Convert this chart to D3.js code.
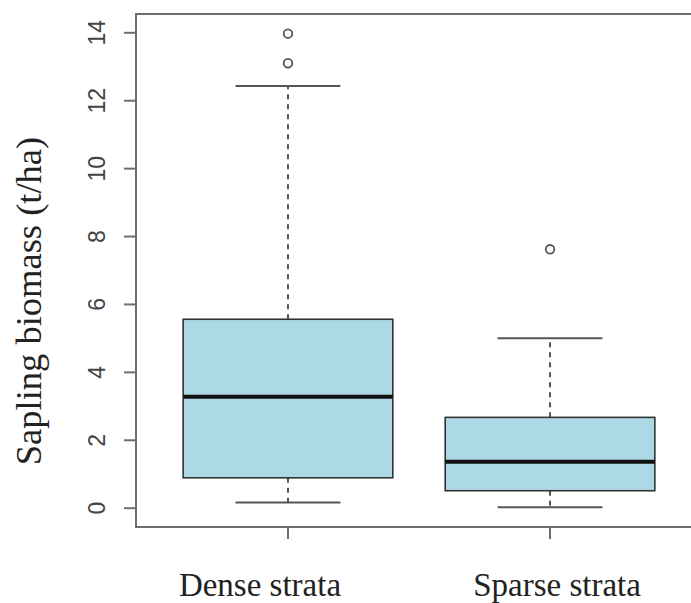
<!DOCTYPE html>
<html>
<head>
<meta charset="utf-8">
<script src="https://cdn.jsdelivr.net/npm/d3@7"></script>
<style>
  body { margin: 0; background: #fff; }
  svg { display: block; }
</style>
</head>
<body>
<div id="chart"></div>
<script>
// values
const categories = ["Dense strata", "Sparse strata"];
const lowerWhisker = [0.15, 0.01];
const q1 = [0.88, 0.50];
const median = [3.27, 1.35];
const q3 = [5.55, 2.66];
const upperWhisker = [12.42, 4.99];
const outliers = [[13.96, 13.09], [7.61]];
const yTicks = [0, 2, 4, 6, 8, 10, 12, 14];

const width = 691;
const height = 603;

// plot frame (right edge falls outside the picture)
const frame = { left: 136, right: 702, top: 14, bottom: 527 };

const svg = d3.select('#chart')
    .append('svg')
    .attr('width', width)
    .attr('height', height);

const x = d3.scaleLinear()
    .domain([0.42, 2.58])
    .range([frame.left, frame.right]);

const y = d3.scaleLinear()
    .domain([0, 14])
    .range([507.7, 32.3]);

const boxHalf = 0.4;
const capHalf = 0.2;
const frameColor = '#6e6e6e';
const lineColor = '#555';

// frame
svg.append('rect')
    .attr('x', frame.left)
    .attr('y', frame.top)
    .attr('width', frame.right - frame.left)
    .attr('height', frame.bottom - frame.top)
    .attr('fill', 'none')
    .attr('stroke', frameColor)
    .attr('stroke-width', 2);

// y axis ticks, labels rotated like R
const yAxis = svg.append('g')
    .attr('transform', `translate(${frame.left},0)`)
    .call(d3.axisLeft(y).tickValues(yTicks).tickSize(12).tickFormat(d3.format('d')));
yAxis.select('.domain').remove();
yAxis.selectAll('.tick line').attr('stroke', frameColor).attr('stroke-width', 2);
yAxis.selectAll('.tick text')
    .attr('x', null).attr('dy', null)
    .attr('text-anchor', 'middle')
    .attr('dominant-baseline', 'central')
    .attr('transform', 'translate(-39,0) rotate(-90)')
    .attr('font-family', 'Liberation Sans, Arial, sans-serif')
    .attr('font-size', 23)
    .attr('fill', '#444');

// x axis ticks
const groups = svg.selectAll('g.box')
    .data(categories.map((c, i) => ({ c, i, pos: i + 1 })))
    .enter()
    .append('g')
    .attr('class', 'box');

groups.append('line')
    .attr('x1', d => x(d.pos)).attr('x2', d => x(d.pos))
    .attr('y1', frame.bottom).attr('y2', frame.bottom + 12)
    .attr('stroke', frameColor).attr('stroke-width', 2);

// whiskers (dashed)
groups.append('line')
    .attr('x1', d => x(d.pos)).attr('x2', d => x(d.pos))
    .attr('y1', d => y(q3[d.i])).attr('y2', d => y(upperWhisker[d.i]))
    .attr('stroke', lineColor).attr('stroke-width', 2)
    .attr('stroke-dasharray', '5,5');
groups.append('line')
    .attr('x1', d => x(d.pos)).attr('x2', d => x(d.pos))
    .attr('y1', d => y(q1[d.i])).attr('y2', d => y(lowerWhisker[d.i]))
    .attr('stroke', lineColor).attr('stroke-width', 2)
    .attr('stroke-dasharray', '5,5');

// staples
[upperWhisker, lowerWhisker].forEach(arr => {
    groups.append('line')
        .attr('x1', d => x(d.pos - capHalf)).attr('x2', d => x(d.pos + capHalf))
        .attr('y1', d => y(arr[d.i])).attr('y2', d => y(arr[d.i]))
        .attr('stroke', lineColor).attr('stroke-width', 2);
});

// boxes
groups.append('rect')
    .attr('x', d => x(d.pos - boxHalf))
    .attr('width', d => x(d.pos + boxHalf) - x(d.pos - boxHalf))
    .attr('y', d => y(q3[d.i]))
    .attr('height', d => y(q1[d.i]) - y(q3[d.i]))
    .attr('fill', '#add8e6')
    .attr('stroke', '#333')
    .attr('stroke-width', 1.6);

// medians
groups.append('line')
    .attr('x1', d => x(d.pos - boxHalf)).attr('x2', d => x(d.pos + boxHalf))
    .attr('y1', d => y(median[d.i])).attr('y2', d => y(median[d.i]))
    .attr('stroke', '#111').attr('stroke-width', 4);

// outliers
groups.selectAll('circle')
    .data(d => outliers[d.i].map(v => ({ v, pos: d.pos })))
    .enter()
    .append('circle')
    .attr('cx', d => x(d.pos))
    .attr('cy', d => y(d.v))
    .attr('r', 4.3)
    .attr('fill', 'none')
    .attr('stroke', lineColor)
    .attr('stroke-width', 1.8);

// category labels (placed slightly off-centre, as in the original)
const labelShift = [-28, 7];
groups.append('text')
    .attr('x', d => x(d.pos) + labelShift[d.i])
    .attr('y', 596)
    .attr('text-anchor', 'middle')
    .attr('font-family', 'Liberation Serif, Times New Roman, serif')
    .attr('font-size', 33)
    .attr('fill', '#222')
    .text(d => d.c);

// y title
svg.append('text')
    .attr('transform', `translate(41,301) rotate(-90)`)
    .attr('text-anchor', 'middle')
    .attr('font-family', 'Liberation Serif, Times New Roman, serif')
    .attr('font-size', 36.5)
    .attr('fill', '#222')
    .text('Sapling biomass (t/ha)');
</script>
</body>
</html>
